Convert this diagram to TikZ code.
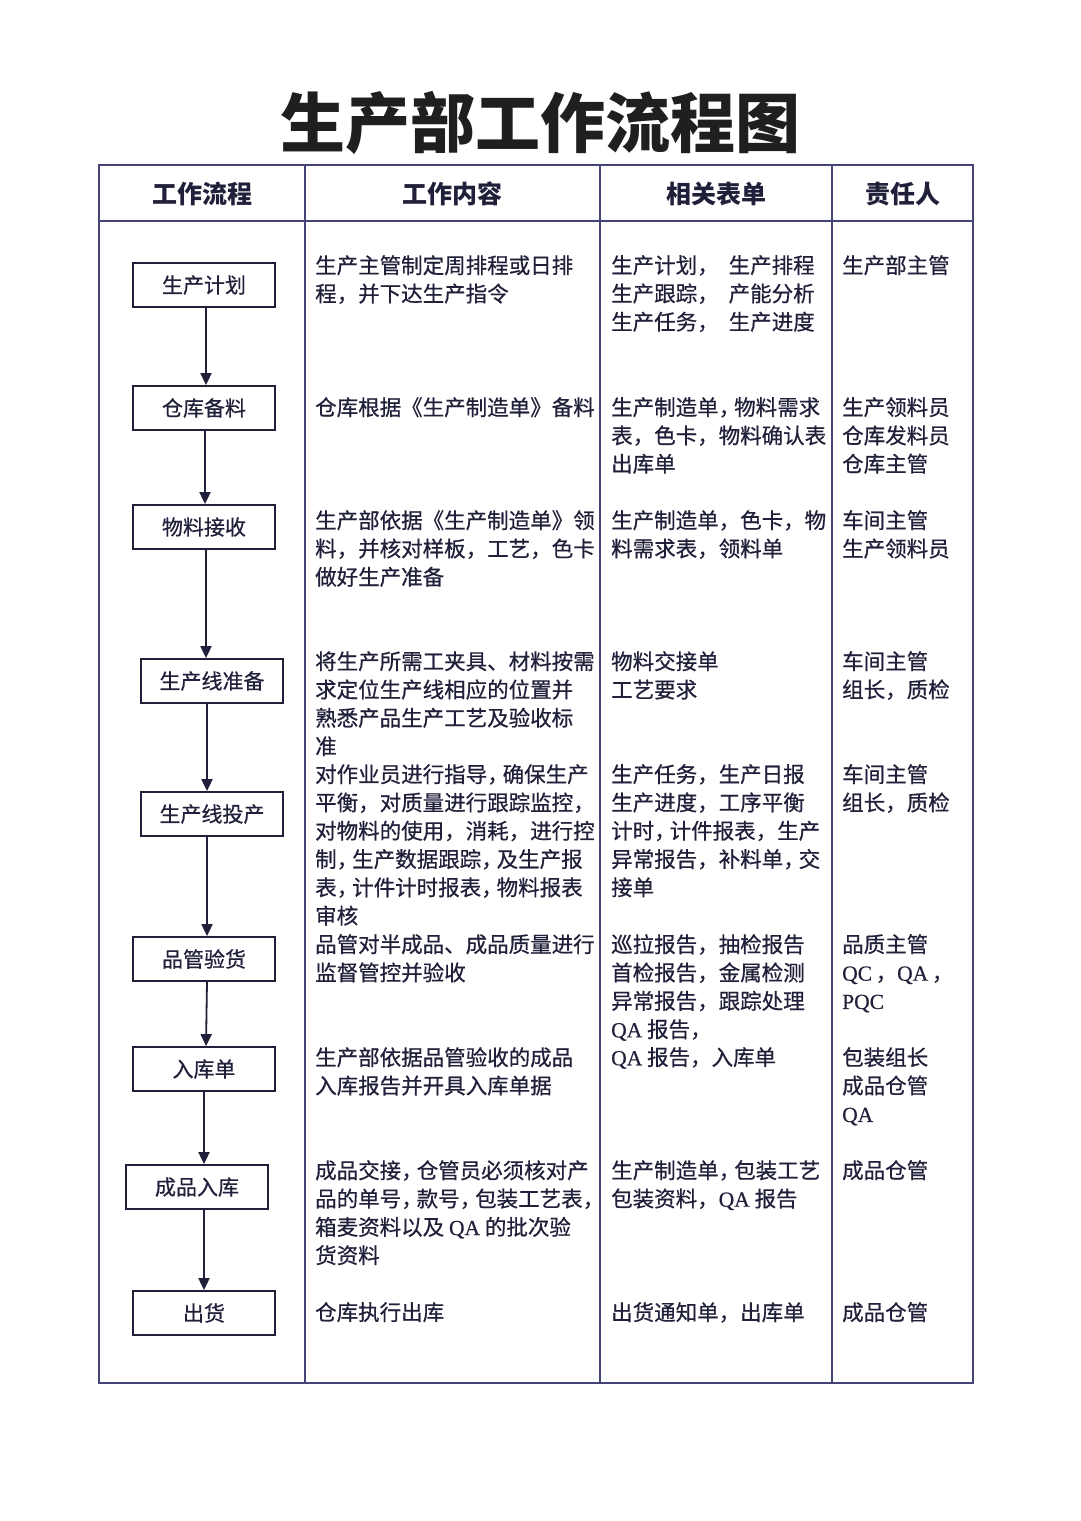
\documentclass[tikz,border=0pt]{standalone}
\usepackage{fontspec}
\setmainfont{Noto Sans CJK SC}
\newfontfamily\bodyf{Noto Sans CJK SC}[FakeBold=0.6]
\newfontfamily\lat{Liberation Serif}[FakeBold=0.4]
\newcommand\nc{，\kern-0.28em}
\usetikzlibrary{arrows.meta}
\definecolor{tl}{RGB}{68,68,120}
\definecolor{ink}{RGB}{32,32,58}
\begin{document}
\begin{tikzpicture}[x=1pt,y=-1pt,
  flowbox/.style={draw=ink,line width=1.8pt,minimum width=142pt,minimum height=44pt,inner sep=0pt,font=\bodyf\fontsize{21}{25}\selectfont,text=ink},
  cell/.style={anchor=north west,inner sep=0pt,align=left,font=\bodyf\fontsize{21.5}{28.3}\selectfont,text=ink},
  hdr/.style={font=\fontsize{25}{30}\selectfont\bfseries,text=ink},
  arr/.style={draw=ink,line width=1.8pt,-{Triangle[length=12pt,width=11pt]}},
  gridline/.style={draw=tl,line width=1.8pt}]
\useasboundingbox[fill=white] (0,0) rectangle (1080,1521);

% title
\node[font=\fontsize{65}{70}\selectfont\bfseries,text=black!88] (title) at (540,123) {生产部工作流程图};

% table
\draw[gridline] (99,165) rectangle (973,1383);
\draw[gridline] (99,221) -- (973,221);
\draw[gridline] (305,165) -- (305,1383);
\draw[gridline] (600,165) -- (600,1383);
\draw[gridline] (832,165) -- (832,1383);

% headers
\node[hdr] (h1) at (202,194) {工作流程};
\node[hdr] (h2) at (452,194) {工作内容};
\node[hdr] (h3) at (716,194) {相关表单};
\node[hdr] (h4) at (903,194) {责任人};

% flow boxes
\node[flowbox] (b1) at (204,285) {生产计划};
\node[flowbox] (b2) at (204,408) {仓库备料};
\node[flowbox] (b3) at (204,527) {物料接收};
\node[flowbox] (b4) at (212,681) {生产线准备};
\node[flowbox] (b5) at (212,814) {生产线投产};
\node[flowbox] (b6) at (204,959) {品管验货};
\node[flowbox] (b7) at (204,1069) {入库单};
\node[flowbox] (b8) at (197,1187) {成品入库};
\node[flowbox] (b9) at (204,1313) {出货};

% arrows
\draw[arr] ([xshift=2pt]b1.south) -- ([xshift=2pt]b2.north);
\draw[arr] ([xshift=1pt]b2.south) -- ([xshift=1pt]b3.north);
\draw[arr] ([xshift=2pt]b3.south) -- ([xshift=-6pt]b4.north);
\draw[arr] ([xshift=-5pt]b4.south) -- ([xshift=-5pt]b5.north);
\draw[arr] ([xshift=-5pt]b5.south) -- ([xshift=3pt]b6.north);
\draw[arr] ([xshift=3pt]b6.south) -- ([xshift=2pt]b7.north);
\draw[arr] (b7.south) -- ([xshift=7pt]b8.north);
\draw[arr] ([xshift=7pt]b8.south) -- (b9.north);

% row 1
\node[cell] (r1c2) at (315,255) {生产主管制定周排程或日排\\程，并下达生产指令};
\node[cell] (r1c3) at (611,255) {生产计划，\hspace{10pt}生产排程\\生产跟踪，\hspace{10pt}产能分析\\生产任务，\hspace{10pt}生产进度};
\node[cell] (r1c4) at (842,255) {生产部主管};
% row 2
\node[cell] (r2c2) at (315,397) {仓库根据《生产制造单》备料};
\node[cell] (r2c3) at (611,397) {生产制造单\nc 物料需求\\表，色卡，物料确认表\\出库单};
\node[cell] (r2c4) at (842,397) {生产领料员\\仓库发料员\\仓库主管};
% row 3
\node[cell] (r3c2) at (315,510) {生产部依据《生产制造单》领\\料，并核对样板，工艺，色卡\\做好生产准备};
\node[cell] (r3c3) at (611,510) {生产制造单，色卡，物\\料需求表，领料单};
\node[cell] (r3c4) at (842,510) {车间主管\\生产领料员};
% row 4
\node[cell] (r4c2) at (315,651) {将生产所需工夹具、材料按需\\求定位生产线相应的位置并\\熟悉产品生产工艺及验收标\\准};
\node[cell] (r4c3) at (611,651) {物料交接单\\工艺要求};
\node[cell] (r4c4) at (842,651) {车间主管\\组长，质检};
% row 5
\node[cell] (r5c2) at (315,764) {对作业员进行指导\nc 确保生产\\平衡，对质量进行跟踪监控，\\对物料的使用，消耗，进行控\\制\nc 生产数据跟踪\nc 及生产报\\表\nc 计件计时报表\nc 物料报表\\审核};
\node[cell] (r5c3) at (611,764) {生产任务，生产日报\\生产进度，工序平衡\\计时\nc 计件报表，生产\\异常报告，补料单\nc 交\\接单};
\node[cell] (r5c4) at (842,764) {车间主管\\组长，质检};
% row 6
\node[cell] (r6c2) at (315,934) {品管对半成品、成品质量进行\\监督管控并验收};
\node[cell] (r6c3) at (611,934) {巡拉报告，抽检报告\\首检报告，金属检测\\异常报告，跟踪处理\\{\lat QA} 报告，};
\node[cell] (r6c4) at (842,934) {品质主管\\{\lat QC}\,，{\lat QA}\,，\\{\lat PQC}};
% row 7
\node[cell] (r7c2) at (315,1047) {生产部依据品管验收的成品\\入库报告并开具入库单据};
\node[cell] (r7c3) at (611,1047) {{\lat QA} 报告，入库单};
\node[cell] (r7c4) at (842,1047) {包装组长\\成品仓管\\{\lat QA}};
% row 8
\node[cell] (r8c2) at (315,1160) {成品交接\nc 仓管员必须核对产\\品的单号\nc 款号\nc 包装工艺表\nc\\箱麦资料以及 {\lat QA} 的批次验\\货资料};
\node[cell] (r8c3) at (611,1160) {生产制造单\nc 包装工艺\\包装资料，{\lat QA} 报告};
\node[cell] (r8c4) at (842,1160) {成品仓管};
% row 9
\node[cell] (r9c2) at (315,1302) {仓库执行出库};
\node[cell] (r9c3) at (611,1302) {出货通知单，出库单};
\node[cell] (r9c4) at (842,1302) {成品仓管};
\end{tikzpicture}
\end{document}
